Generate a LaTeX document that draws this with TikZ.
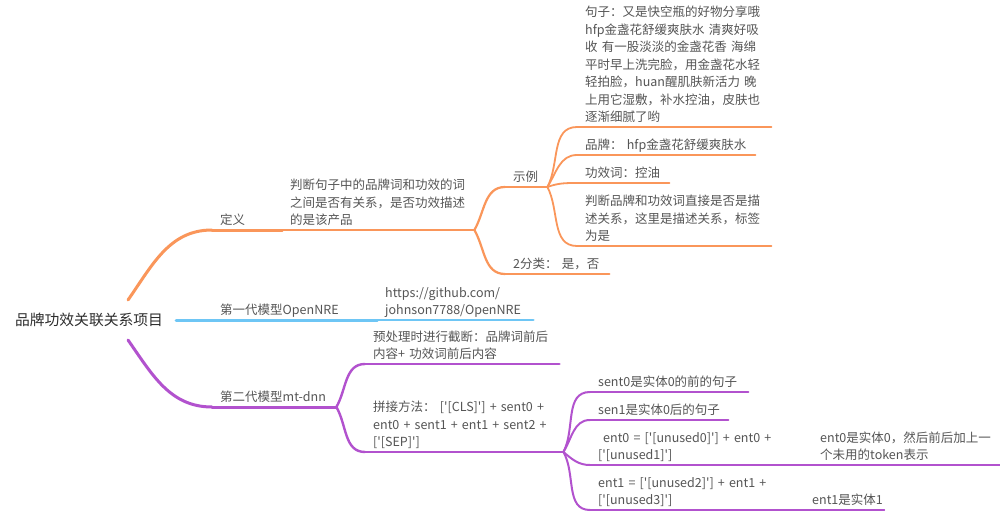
\documentclass[tikz,border=0pt]{standalone}
\usepackage{fontspec}
\setmainfont{Noto Sans CJK SC}[Ligatures=TeXOff]
\usepackage{tikz}
\usepackage{xcolor}
\definecolor{mmorange}{RGB}{250,150,90}
\definecolor{mmblue}{RGB}{110,198,245}
\definecolor{mmpurple}{RGB}{178,82,206}
\definecolor{mmtext}{RGB}{85,85,85}
\definecolor{mmroot}{RGB}{45,45,45}
\tikzstyle{topic} = [anchor=south west, inner xsep=8pt, inner ysep=0pt, align=left,
    text=mmtext, font=\fontsize{12.5pt}{17.5pt}\selectfont, execute at end node=\strut]
\tikzstyle{rootnode} = [inner xsep=13pt, text=mmroot, font=\fontsize{14.8pt}{18pt}\selectfont]

\begin{document}
\begin{tikzpicture}[x=1pt, y=-1pt, line cap=round]
\fill[white] (0,0) rectangle (1000,513);
\useasboundingbox (0,0) rectangle (1000,513);

% root
\node[rootnode] (root) at (89,320) {品牌功效关联关系项目};
\coordinate (rootup) at (128,300);
\coordinate (rootdn) at (128,340);

% definition branch
\node[topic, text width=54pt] (def) at (212,230) {定义};
\node[topic, text width=176pt] (defn) at (282,230) {判断句子中的品牌词和功效的词\\之间是否有关系，是否功效描述\\的是该产品};
\node[topic, text width=26pt] (ex) at (505,187) {示例};
\node[topic, text width=88pt] (cls) at (505,274) {2分类：  是，否};
\node[topic, text width=178pt] (sent) at (577,127) {句子：又是快空瓶的好物分享哦\\hfp金盏花舒缓爽肤水 清爽好吸\\收 有一股淡淡的金盏花香 海绵\\平时早上洗完脸，用金盏花水轻\\轻拍脸，huan醒肌肤新活力 晚\\上用它湿敷，补水控油，皮肤也\\逐渐细腻了哟};
\node[topic, text width=162pt] (brand) at (577,155) {品牌：  hfp金盏花舒缓爽肤水};
\node[topic, text width=76pt] (eff) at (577,183) {功效词：控油};
\node[topic, text width=178pt] (judge) at (577,246) {判断品牌和功效词直接是否是描\\述关系，这里是描述关系，标签\\为是};

% first generation
\node[topic, text width=149pt] (gen1) at (212,320) {第一代模型OpenNRE};
\node[topic, text width=140pt] (url) at (377,320) {https://github.com/\\johnson7788/OpenNRE};

% second generation
\node[topic, text width=108pt] (gen2) at (212,407) {第二代模型mt-dnn};
\node[topic, text width=178pt] (pre) at (365,364) {预处理时进行截断：品牌词前后\\内容+ 功效词前后内容};
\node[topic, text width=182pt] (cat) at (365,452) {拼接方法：  ['[CLS]'] + sent0 +\\ent0 + sent1 + ent1 + sent2 +\\{}['[SEP]']};
\node[topic, text width=142pt] (s0) at (590,392) {sent0是实体0的前的句子};
\node[topic, text width=122pt] (s1) at (590,420) {sen1是实体0后的句子};
\node[topic, text width=178pt] (e0) at (590,465) {\hspace*{5pt}ent0 = ['[unused0]'] + ent0 +\\{}['[unused1]']};
\node[topic, text width=174pt] (e0n) at (812,465) {ent0是实体0，然后前后加上一\\个未用的token表示};
\node[topic, text width=174pt] (e1) at (590,510) {ent1 = ['[unused2]'] + ent1 +\\{}['[unused3]']};
\node[topic, text width=64pt] (e1n) at (804,510) {ent1是实体1};

% underlines
\foreach \n/\c/\w in {def/mmorange/3pt, defn/mmorange/2.4pt, ex/mmorange/2.2pt, cls/mmorange/2.2pt,
    sent/mmorange/1.8pt, brand/mmorange/1.8pt, eff/mmorange/1.8pt, judge/mmorange/1.8pt,
    gen1/mmblue/3pt, url/mmblue/2.4pt,
    gen2/mmpurple/3pt, pre/mmpurple/2.4pt, cat/mmpurple/2.4pt,
    s0/mmpurple/2pt, s1/mmpurple/2pt, e0/mmpurple/2pt, e1/mmpurple/2pt,
    e0n/mmpurple/1.5pt, e1n/mmpurple/1.5pt}
  \draw[\c, line width=\w] (\n.south west) -- (\n.south east);

% connectors
\draw[mmorange, line width=3pt] (rootup) to[out=55,in=180] (def.south west);
\draw[mmblue, line width=3pt] (root.east) -- (gen1.south west);
\draw[mmpurple, line width=3pt] (rootdn) to[out=-55,in=180] (gen2.south west);
\draw[mmorange, line width=2.4pt] (def.south east) -- (defn.south west);
\draw[mmblue, line width=2.4pt] (gen1.south east) -- (url.south west);
\draw[mmpurple, line width=1.5pt] (e0.south east) -- (e0n.south west);
\draw[mmpurple, line width=1.5pt] (e1.south east) -- (e1n.south west);
\foreach \a/\b/\o/\c/\w in {defn/ex/60/mmorange/2.2pt, defn/cls/-60/mmorange/2.2pt,
    ex/sent/62/mmorange/1.8pt, ex/brand/58/mmorange/1.8pt, ex/eff/20/mmorange/1.8pt, ex/judge/-62/mmorange/1.8pt,
    gen2/pre/60/mmpurple/2.4pt, gen2/cat/-60/mmpurple/2.4pt,
    cat/s0/62/mmpurple/2pt, cat/s1/58/mmpurple/2pt, cat/e0/-40/mmpurple/2pt, cat/e1/-60/mmpurple/2pt}
  \draw[\c, line width=\w] (\a.south east) to[out=\o,in=180] (\b.south west);
\end{tikzpicture}
\end{document}
